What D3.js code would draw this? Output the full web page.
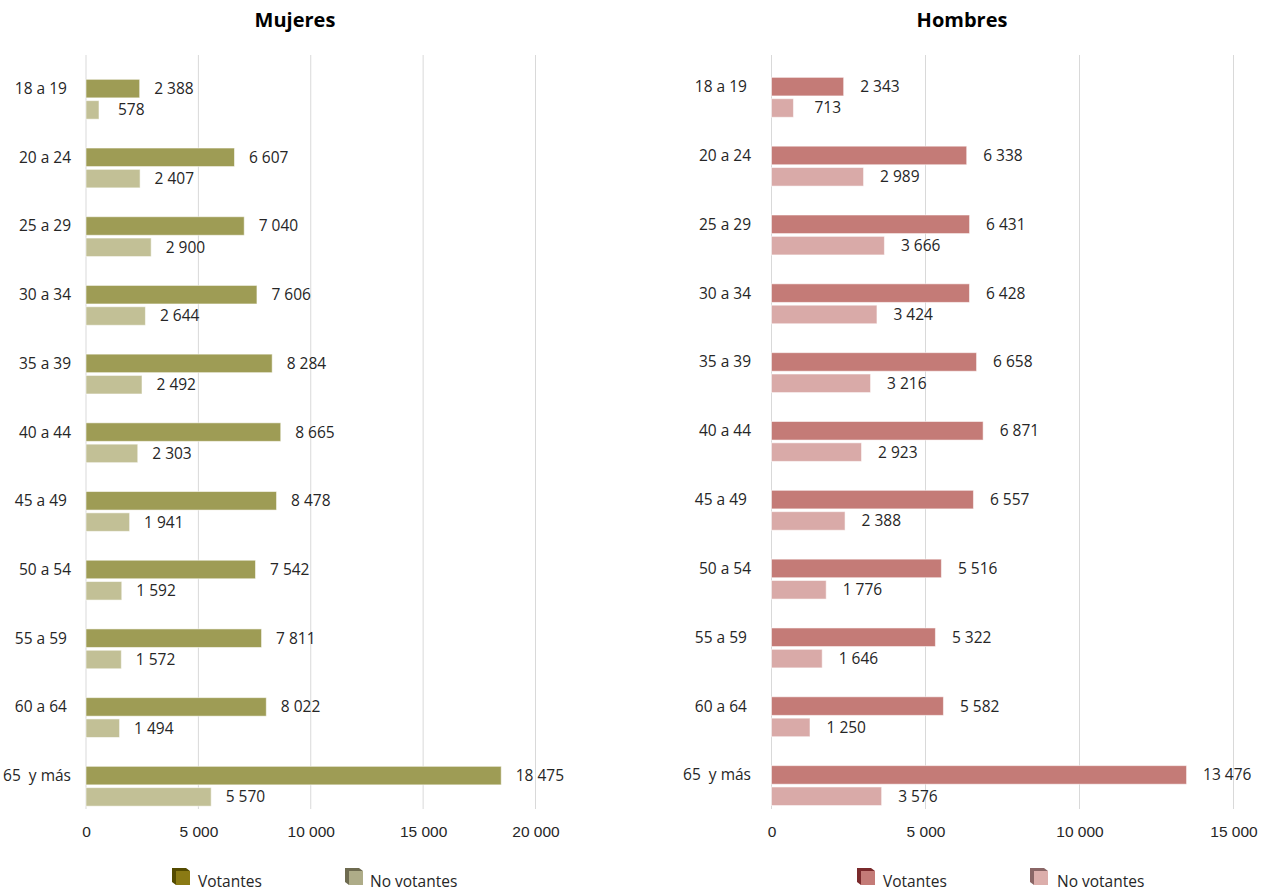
<!DOCTYPE html>
<html>
<head>
<meta charset="utf-8">
<script src="https://cdn.jsdelivr.net/npm/d3@7"></script>
<style>
  html, body { margin: 0; padding: 0; background: #ffffff; }
  svg { display: block; font-family: "Open Sans", "Noto Sans", sans-serif; }
  text { white-space: pre; }
</style>
</head>
<body>
<svg id="chart" width="1270" height="892"></svg>
<script>
// ---- Data ----
const categories = ["18 a 19 ", "20 a 24", "25 a 29", "30 a 34", "35 a 39", "40 a 44", "45 a 49 ", "50 a 54", "55 a 59 ", "60 a 64 ", "65  y más"];
const series = ["Votantes", "No votantes"];
const mujeresVotantes   = [2388, 6607, 7040, 7606, 8284, 8665, 8478, 7542, 7811, 8022, 18475];
const mujeresNoVotantes = [578, 2407, 2900, 2644, 2492, 2303, 1941, 1592, 1572, 1494, 5570];
const hombresVotantes   = [2343, 6338, 6431, 6428, 6658, 6871, 6557, 5516, 5322, 5582, 13476];
const hombresNoVotantes = [713, 2989, 3666, 3424, 3216, 2923, 2388, 1776, 1646, 1250, 3576];
const mujeresTicks = [0, 5000, 10000, 15000, 20000];
const hombresTicks = [0, 5000, 10000, 15000];
const titles = ["Mujeres", "Hombres"];

const locale = d3.formatLocale({ decimal: ",", thousands: " ", grouping: [3], currency: ["", ""] });
const fmt = locale.format(",d");

const svg = d3.select("#chart");
const FONT = 15.5;

const panels = [
  {
    title: titles[0], values: [mujeresVotantes, mujeresNoVotantes], ticks: mujeresTicks,
    xRange: [86, 535.5], yRange: [64.9, 820.6], titleX: 295, labelX: 71, valOffset: 14.5,
    colors: ["#9e9c55", "#c2c096"],
    legend: [
      { x: 176, textX: 198, front: "#8a7a14", back: "#544b00" },
      { x: 349, textX: 370, front: "#aeac88", back: "#6e6b50" }
    ]
  },
  {
    title: titles[1], values: [hombresVotantes, hombresNoVotantes], ticks: hombresTicks,
    xRange: [771.5, 1233.5], yRange: [62.9, 820.0], titleX: 962, labelX: 751, valOffset: 16.5,
    colors: ["#c47b77", "#d9aaa8"],
    legend: [
      { x: 861, textX: 883, front: "#c47b77", back: "#7a2a2c" },
      { x: 1034, textX: 1057, front: "#dcaeab", back: "#8a6666" }
    ]
  }
];

panels.forEach(p => {
  const g = svg.append("g");
  const x = d3.scaleLinear().domain([0, p.ticks[p.ticks.length - 1]]).range(p.xRange);
  const y = d3.scaleBand().domain(categories).range(p.yRange).paddingInner(0.42).paddingOuter(0.21);
  const ys = d3.scaleBand().domain(series).range([0, y.bandwidth()]).paddingInner(0.13);

  // gridlines
  g.append("g").selectAll("line").data(p.ticks).join("line")
    .attr("x1", d => x(d)).attr("x2", d => x(d))
    .attr("y1", 55).attr("y2", 809)
    .attr("stroke", "#d9d9d9").attr("stroke-width", 1);

  // title
  g.append("text").attr("x", p.titleX).attr("y", 27)
    .attr("text-anchor", "middle").attr("font-weight", "bold")
    .attr("font-size", 20).attr("fill", "#000").text(p.title);

  // bars
  series.forEach((s, si) => {
    const vals = p.values[si];
    const data = categories.map((c, i) => ({ c, v: vals[i] }));
    g.append("g").selectAll("rect").data(data).join("rect")
      .attr("x", x(0))
      .attr("y", d => y(d.c) + ys(s))
      .attr("width", d => x(d.v) - x(0))
      .attr("height", ys.bandwidth())
      .attr("fill", p.colors[si])
      .attr("stroke", "#ffffff").attr("stroke-opacity", 0.55).attr("stroke-width", 1);
    g.append("g").selectAll("text").data(data).join("text")
      .attr("x", d => x(d.v) + p.valOffset + (d.v < 1000 ? 4.5 : 0))
      .attr("y", d => y(d.c) + ys(s) + ys.bandwidth() / 2)
      .attr("dy", "0.35em")
      .attr("font-size", FONT).attr("fill", "#262626")
      .text(d => fmt(d.v));
  });

  // category labels
  g.append("g").selectAll("text").data(categories).join("text")
    .attr("x", p.labelX)
    .attr("y", d => y(d) + ys("Votantes") + ys.bandwidth() / 2)
    .attr("dy", "0.35em")
    .attr("text-anchor", "end")
    .attr("font-size", FONT).attr("fill", "#262626")
    .text(d => d);

  // x axis
  const axis = d3.axisBottom(x).tickValues(p.ticks).tickSize(0).tickPadding(17).tickFormat(d => fmt(d));
  const ag = g.append("g").attr("transform", "translate(0,809)").call(axis);
  ag.select(".domain").remove();
  ag.selectAll("text").attr("font-size", FONT).attr("fill", "#262626").attr("font-family", "inherit");

  // legend
  p.legend.forEach((l, li) => {
    const lg = g.append("g");
    const fy = 871, sz = 14;
    lg.append("polygon")
      .attr("points", [[l.x, fy], [l.x - 4, fy - 3], [l.x - 4 + sz, fy - 3], [l.x + sz, fy], [l.x + sz, fy + sz], [l.x, fy + sz], [l.x - 4, fy + sz - 3], [l.x - 4, fy - 3]].map(q => q.join(",")).join(" "))
      .attr("fill", l.back);
    lg.append("rect").attr("x", l.x).attr("y", fy).attr("width", sz).attr("height", sz).attr("fill", l.front);
    lg.append("text").attr("x", l.textX).attr("y", fy + 11).attr("dy", "0.35em")
      .attr("font-size", FONT).attr("fill", "#262626").text(series[li]);
  });
});
</script>
</body>
</html>
